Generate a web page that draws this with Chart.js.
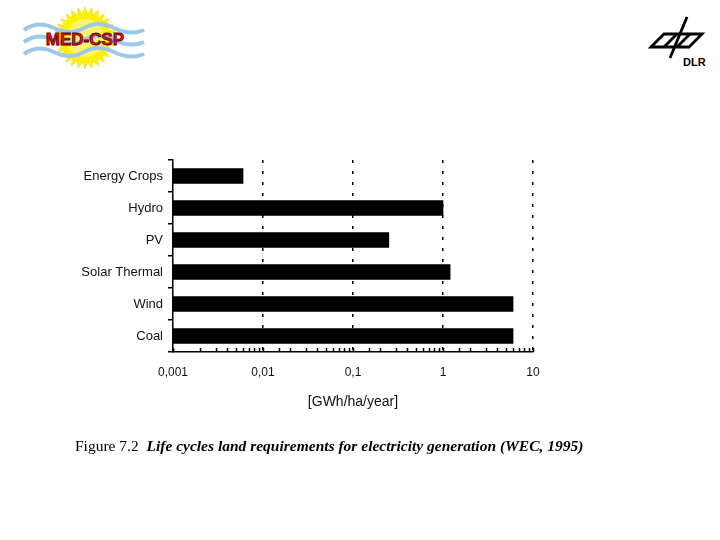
<!DOCTYPE html>
<html>
<head>
<meta charset="utf-8">
<script src="https://cdn.jsdelivr.net/npm/chart.js@4.4.0/dist/chart.umd.min.js"></script>
<style>
    html, body { margin: 0; padding: 0; background: #fff; }
    #wrap { position: relative; width: 720px; height: 540px; overflow: hidden; }
    #landChart { position: absolute; left: 0; top: 0; }
    .logo { position: absolute; }
    #caption { position: absolute; left: 75px; top: 437px; font-family: "Liberation Serif", serif; font-size: 15.5px; color: #000; white-space: nowrap; }
    #caption i { font-weight: bold; }
</style>
</head>
<body>
<div id="wrap">
    <svg class="logo" style="left:18px;top:6px" width="130" height="66" viewBox="0 0 130 66">
        <polygon id="sun" fill="#fff200" stroke="#f5d000" stroke-width="0.5"></polygon>
        <circle cx="67" cy="32" r="19" fill="#fff36b"></circle>
        <g fill="none" stroke="#9cc8ec" stroke-width="4">
            <path d="M6 24 Q20 14 36 22 T66 22 T96 22 T126 24"></path>
            <path d="M6 36 Q20 26 36 34 T66 34 T96 34 T126 36"></path>
            <path d="M6 48 Q20 38 36 46 T66 46 T96 46 T126 48"></path>
        </g>
        <text x="67" y="39" text-anchor="middle" font-family="Liberation Sans, Arial" font-weight="bold" font-size="17" fill="#e3151b" stroke="#5a0000" stroke-width="0.8">MED-CSP</text>
    </svg>
    <svg class="logo" style="left:644px;top:14px" width="64" height="56" viewBox="0 0 64 56">
        <g fill="none" stroke="#000" stroke-width="2.8" stroke-linejoin="miter">
            <path d="M7 33 L20 20 L58 20 L45 33 Z"></path>
            <path d="M20 33 L33 20"></path>
            <path d="M33 33 L46 20"></path>
            <path d="M43 3 L26 44"></path>
        </g>
        <text x="39" y="52" font-family="Liberation Sans, Arial" font-weight="bold" font-size="11" fill="#000">DLR</text>
    </svg>
    <canvas id="landChart" width="720" height="540"></canvas>
    <div id="caption">Figure 7.2 &nbsp;<i>Life cycles land requirements for electricity generation (WEC, 1995)</i></div>
</div>
<script>
const categories = ['Energy Crops', 'Hydro', 'PV', 'Solar Thermal', 'Wind', 'Coal'];
const landValues = [0.006, 1.0, 0.25, 1.2, 6.0, 6.0];
const tickValues = [0.001, 0.01, 0.1, 1, 10];
const tickLabels = ['0,001', '0,01', '0,1', '1', '10'];

// spiky sun behind the waves
(function() {
    const pts = [];
    const n = 28;
    for (let i = 0; i < n * 2; i++) {
        const r = i % 2 === 0 ? 31 : 24;
        const a = Math.PI * i / n;
        pts.push((67 + r * Math.cos(a)).toFixed(1) + ',' + (32 + r * Math.sin(a)).toFixed(1));
    }
    document.getElementById('sun').setAttribute('points', pts.join(' '));
})();

function isDecade(v) {
    const l = Math.log10(v);
    return Math.abs(l - Math.round(l)) < 1e-6;
}

// small tick marks pointing up into the plot, like the original
const innerTicks = {
    id: 'innerTicks',
    afterDatasetsDraw(chart) {
        const x = chart.scales.x;
        const ctx = chart.ctx;
        const bottom = chart.chartArea.bottom;
        ctx.save();
        ctx.strokeStyle = '#000';
        ctx.lineWidth = 1.5;
        x.ticks.forEach(t => {
            const px = Math.round(x.getPixelForValue(t.value)) + 0.5;
            ctx.beginPath();
            ctx.moveTo(px, bottom);
            ctx.lineTo(px, bottom - 4);
            ctx.stroke();
        });
        ctx.restore();
    }
};

function initLandChart() {
    const ctx = document.getElementById('landChart').getContext('2d');
    new Chart(ctx, {
        type: 'bar',
        data: {
            labels: categories,
            datasets: [{
                data: landValues,
                backgroundColor: '#000',
                borderWidth: 0,
                barThickness: 15
            }]
        },
        options: {
            indexAxis: 'y',
            responsive: false,
            animation: false,
            layout: {
                padding: { left: 0, right: 187, top: 160, bottom: 128 }
            },
            plugins: {
                legend: { display: false },
                tooltip: { enabled: false }
            },
            scales: {
                x: {
                    type: 'logarithmic',
                    min: 0.001,
                    max: 10,
                    afterFit: s => { s.height = 60; },
                    grid: {
                        drawTicks: false,
                        lineWidth: 1.5,
                        color: c => (c.tick && isDecade(c.tick.value) && c.tick.value > 0.001) ? '#000' : 'rgba(0,0,0,0)'
                    },
                    border: { display: true, color: '#000', width: 1.5, dash: [3, 8] },
                    ticks: {
                        autoSkip: false,
                        maxRotation: 0,
                        padding: 13,
                        color: '#111',
                        font: { family: 'Liberation Sans, Arial', size: 12 },
                        callback: function(value) {
                            const i = tickValues.findIndex(v => Math.abs(v - value) < value * 1e-6);
                            return i >= 0 ? tickLabels[i] : '';
                        }
                    },
                    title: {
                        display: true,
                        text: '[GWh/ha/year]',
                        color: '#111',
                        font: { family: 'Liberation Sans, Arial', size: 14 },
                        padding: { top: 0, bottom: 1 }
                    }
                },
                y: {
                    afterFit: s => { s.width = 173; },
                    grid: {
                        offset: true,
                        drawOnChartArea: false,
                        tickLength: 5,
                        color: '#000',
                        lineWidth: 1.5
                    },
                    border: { display: true, color: '#000', width: 1.5 },
                    ticks: {
                        padding: 5,
                        color: '#111',
                        font: { family: 'Liberation Sans, Arial', size: 13 }
                    }
                }
            }
        },
        plugins: [innerTicks]
    });
}

document.addEventListener('DOMContentLoaded', function() {
    initLandChart();
});
</script>
</body>
</html>
